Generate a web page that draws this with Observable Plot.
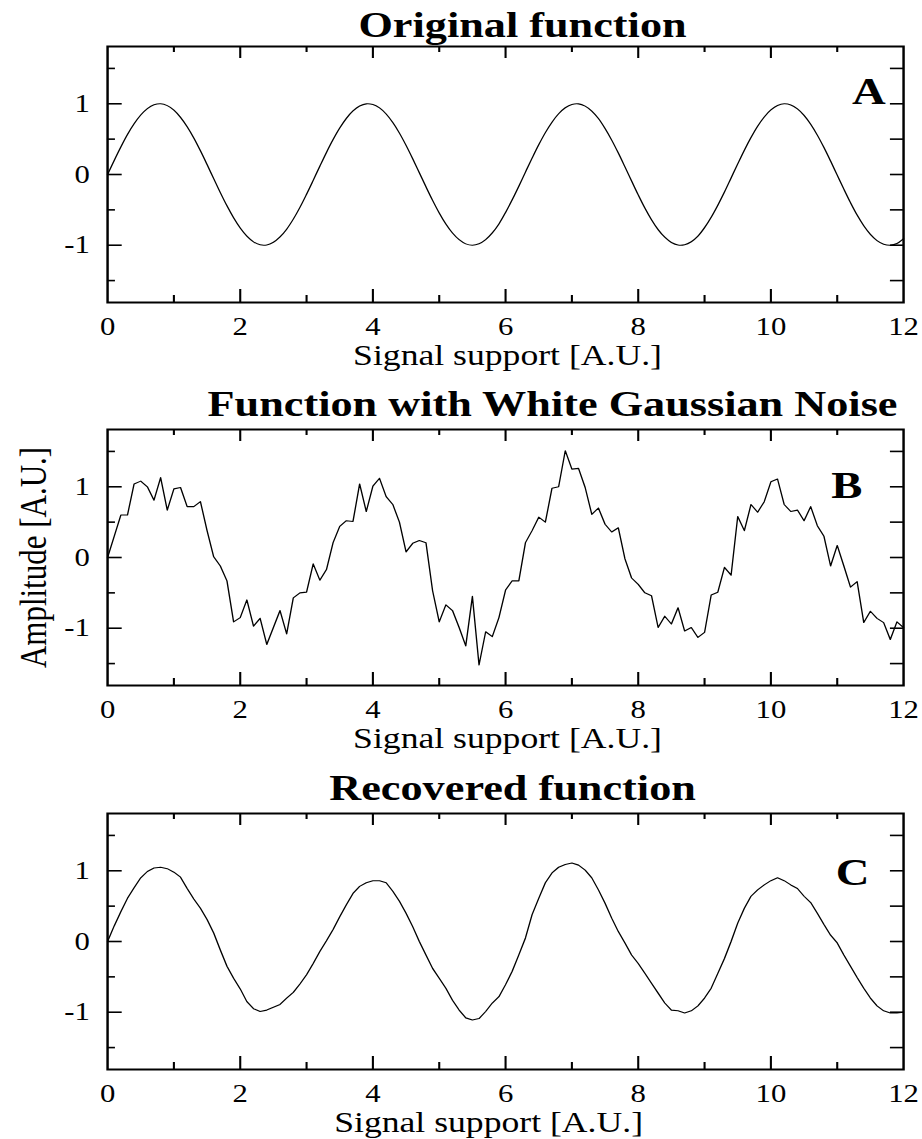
<!DOCTYPE html>
<html>
<head>
<meta charset="utf-8">
<script src="https://cdn.jsdelivr.net/npm/d3@7"></script>
<script src="https://cdn.jsdelivr.net/npm/@observablehq/plot@0.6"></script>
<style>
  html, body { margin: 0; padding: 0; background: #fff; }
  #chart svg { display: block; }
</style>
</head>
<body>
<div id="chart"></div>
<script>
// ---------- data ----------
const xSupport = Array.from({length: 121}, (_, i) => i / 10); // sampling grid 0 .. 12, step 0.1

const originalValues = [
  0, 0.199, 0.389, 0.565, 0.717, 0.841, 0.932, 0.985, 1.000, 0.974,
  0.909, 0.808, 0.675, 0.516, 0.335, 0.141, -0.058, -0.256, -0.443, -0.612,
  -0.757, -0.872, -0.952, -0.994, -0.996, -0.959, -0.883, -0.773, -0.631, -0.465,
  -0.279, -0.083, 0.117, 0.312, 0.494, 0.657, 0.794, 0.899, 0.968, 0.999,
  0.989, 0.941, 0.855, 0.734, 0.585, 0.412, 0.223, 0.025, -0.174, -0.366,
  -0.544, -0.700, -0.828, -0.922, -0.981, -1.000, -0.980, -0.921, -0.826, -0.699,
  -0.537, -0.358, -0.166, 0.034, 0.231, 0.420, 0.592, 0.740, 0.859, 0.944,
  0.991, 0.999, 0.967, 0.897, 0.791, 0.650, 0.486, 0.303, 0.108, -0.091,
  -0.288, -0.474, -0.639, -0.779, -0.887, -0.961, -0.997, -0.993, -0.951, -0.871,
  -0.751, -0.604, -0.434, -0.248, -0.049, 0.150, 0.344, 0.523, 0.683, 0.814,
  0.913, 0.976, 1.000, 0.984, 0.929, 0.837, 0.711, 0.557, 0.381, 0.190,
  -0.009, -0.207, -0.398, -0.574, -0.724, -0.846, -0.934, -0.985, -1.000, -0.977, -0.906
];

const noisyValues = [
  0, 0.3, 0.6, 0.6, 1.04, 1.08, 1.0, 0.81, 1.13, 0.67,
  0.97, 0.99, 0.72, 0.72, 0.79, 0.38, 0.01, -0.12, -0.33, -0.91,
  -0.85, -0.6, -0.97, -0.86, -1.23, -0.99, -0.75, -1.08, -0.57, -0.5,
  -0.49, -0.09, -0.32, -0.17, 0.21, 0.44, 0.52, 0.51, 1.04, 0.65,
  1.01, 1.12, 0.86, 0.75, 0.5, 0.08, 0.2, 0.24, 0.21, -0.47,
  -0.91, -0.67, -0.75, -0.99, -1.25, -0.55, -1.52, -1.05, -1.12, -0.85,
  -0.46, -0.33, -0.33, 0.21, 0.38, 0.57, 0.5, 0.98, 1.0, 1.51,
  1.25, 1.26, 0.99, 0.61, 0.7, 0.47, 0.36, 0.42, -0.02, -0.29,
  -0.38, -0.5, -0.54, -0.99, -0.83, -0.94, -0.71, -1.04, -0.99, -1.13,
  -1.06, -0.53, -0.49, -0.14, -0.25, 0.58, 0.38, 0.75, 0.64, 0.79,
  1.07, 1.11, 0.75, 0.65, 0.67, 0.52, 0.72, 0.45, 0.3, -0.12,
  0.17, -0.12, -0.42, -0.34, -0.92, -0.76, -0.86, -0.92, -1.16, -0.91, -0.99
];

const recoveredValues = [
  0, 0.22, 0.42, 0.61, 0.76, 0.9, 0.99, 1.04, 1.05, 1.03,
  0.98, 0.91, 0.75, 0.6, 0.47, 0.31, 0.12, -0.12, -0.35, -0.52,
  -0.67, -0.85, -0.95, -0.99, -0.97, -0.93, -0.89, -0.8, -0.72, -0.6,
  -0.47, -0.31, -0.14, 0.01, 0.17, 0.35, 0.52, 0.68, 0.78, 0.83,
  0.86, 0.86, 0.83, 0.71, 0.57, 0.4, 0.21, 0.0, -0.19, -0.38,
  -0.52, -0.66, -0.83, -0.97, -1.08, -1.11, -1.09, -0.99, -0.87, -0.78,
  -0.61, -0.42, -0.19, 0.05, 0.38, 0.61, 0.83, 0.97, 1.05, 1.09,
  1.11, 1.08, 1.01, 0.9, 0.73, 0.54, 0.33, 0.14, -0.02, -0.19,
  -0.31, -0.45, -0.59, -0.73, -0.87, -0.97, -0.98, -1.01, -0.98, -0.91,
  -0.8, -0.66, -0.45, -0.24, 0.0, 0.26, 0.47, 0.64, 0.73, 0.8,
  0.86, 0.9, 0.86, 0.8, 0.75, 0.64, 0.55, 0.4, 0.24, 0.09,
  -0.02, -0.19, -0.35, -0.51, -0.66, -0.8, -0.91, -0.98, -1.01, -1.01, -1.0
];

const panelTitles = ["Original function", "Function with White Gaussian Noise", "Recovered function"];
const panelLetters = ["A", "B", "C"];
const xLabel = "Signal support [A.U.]";
const yLabel = "Amplitude [A.U.]";
const xTickLabels = [0, 2, 4, 6, 8, 10, 12];
const xMajorTicks = [2, 4, 6, 8, 10];
const xMinorTicks = [1, 3, 5, 7, 9, 11];
const yTickLabels = [-1, 0, 1];
const yMinorTicks = [-1.5, -0.5, 0.5, 1.5];

// ---------- layout ----------
const OUT_W = 922;          // displayed width
const W = 750;              // drawing width (glyphs appear horizontally widened like the reference)
const ML = 87, MR = 15.5, MT = 46, FH = 256;
const FW = W - ML - MR;
const FONT = "'Liberation Serif', 'Times New Roman', Times, serif";

function panel({values, title, letter, height, titleDx, titleDy, letterDx, letterDy, xLabelDx, showYLabel, curve}) {
  const data = xSupport.map((x, i) => ({x, y: values[i]}));
  const marks = [
    Plot.line(data, {x: "x", y: "y", stroke: "black", strokeWidth: 1.1, curve}),
    Plot.frame({stroke: "black", strokeWidth: 2}),
    // bottom ticks (inward)
    Plot.tickX(xMajorTicks, {x: d => d, insetTop: FH - 13, strokeWidth: 1.7}),
    Plot.tickX(xMinorTicks, {x: d => d, insetTop: FH - 7, strokeWidth: 1.7}),
    // top ticks (inward)
    Plot.tickX(xMajorTicks, {x: d => d, insetBottom: FH - 12, strokeWidth: 1.7}),
    Plot.tickX(xMinorTicks, {x: d => d, insetBottom: FH - 6, strokeWidth: 1.7}),
    // left ticks
    Plot.tickY(yTickLabels, {y: d => d, insetRight: FW - 12, strokeWidth: 1.6}),
    Plot.tickY(yMinorTicks, {y: d => d, insetRight: FW - 6.5, strokeWidth: 1.6}),
    // right ticks
    Plot.tickY([...yTickLabels, ...yMinorTicks], {y: d => d, insetLeft: FW - 10.6, strokeWidth: 1.6}),
    Plot.axisX(xTickLabels, {tickSize: 0, tickPadding: 15, fontSize: 25, label: null, tickFormat: d => String(d)}),
    Plot.axisY(yTickLabels, {tickSize: 0, tickPadding: 14.5, fontSize: 25, label: null, tickFormat: d => String(d)}),
    Plot.text([title], {text: d => d, frameAnchor: "top", textAnchor: "middle", lineAnchor: "bottom", dx: titleDx, dy: titleDy,
                        fontSize: 36, fontWeight: "bold", fill: "black"}),
    Plot.text([letter], {text: d => d, frameAnchor: "top-right", textAnchor: "end", lineAnchor: "bottom",
                         dx: letterDx, dy: letterDy, fontSize: 38, fontWeight: "bold", fill: "black"}),
    Plot.text([xLabel], {text: d => d, frameAnchor: "bottom", textAnchor: "middle", lineAnchor: "bottom", dx: xLabelDx, dy: 62,
                         fontSize: 29, fill: "black"})
  ];
  if (showYLabel) {
    marks.push(Plot.text([yLabel], {text: d => d, frameAnchor: "left", textAnchor: "middle", rotate: -90, lineAnchor: "bottom",
                                    dx: -(ML - 36.6), fontSize: 31, fill: "black"}));
  }
  const svg = Plot.plot({
    width: W,
    height,
    marginLeft: ML,
    marginRight: MR,
    marginTop: MT,
    marginBottom: height - MT - FH,
    x: {domain: [0, 12]},
    y: {domain: [-1.81, 1.81]},
    style: {fontFamily: FONT, background: "white", color: "black", overflow: "visible"},
    marks
  });
  svg.setAttribute("width", OUT_W);
  svg.setAttribute("height", height);
  svg.setAttribute("preserveAspectRatio", "none");
  svg.style.width = OUT_W + "px";
  svg.style.height = height + "px";
  svg.style.maxWidth = "none";
  return svg;
}

const chart = document.getElementById("chart");
chart.append(panel({values: originalValues, title: panelTitles[0], letter: panelLetters[0], height: 383,
  titleDx: 13.8, titleDy: -10, letterDx: -14.6, letterDy: 57.3, xLabelDx: 1.6, showYLabel: false, curve: "catmull-rom"}));
chart.append(panel({values: noisyValues, title: panelTitles[1], letter: panelLetters[1], height: 384,
  titleDx: 38.2, titleDy: -14, letterDx: -33.4, letterDy: 68.7, xLabelDx: 1.6, showYLabel: true, curve: "linear"}));
chart.append(panel({values: recoveredValues, title: panelTitles[2], letter: panelLetters[2], height: 372,
  titleDx: 5.7, titleDy: -14, letterDx: -27.7, letterDy: 71.7, xLabelDx: -13.8, showYLabel: false, curve: "linear"}));
</script>
</body>
</html>
